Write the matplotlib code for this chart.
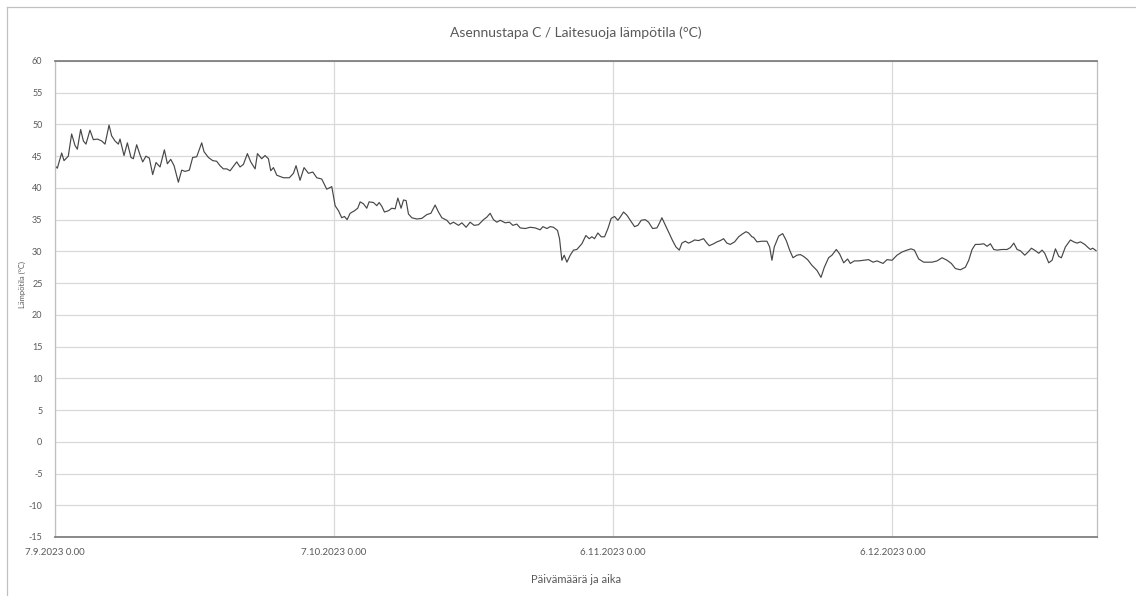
import matplotlib
matplotlib.use('Agg')
import matplotlib.pyplot as plt
import pandas as pd
from matplotlib.lines import Line2D

plt.rcParams['font.family'] = ['Liberation Sans Narrow', 'Lato', 'DejaVu Sans']
plt.rcParams['axes.unicode_minus'] = False

start = pd.Timestamp('2023-09-07 00:00')

# days since 7.9.2023 0.00
days = [0.00, 0.25, 0.72, 0.97, 1.43, 1.79, 2.15, 2.40, 2.76, 3.05, 3.33, 3.76, 4.12, 4.55, 5.02, 5.38,
        5.81, 6.09, 6.45, 6.81, 6.99, 7.42, 7.78, 8.17, 8.42, 8.78, 9.14, 9.43, 9.78, 10.14, 10.50, 10.86,
        11.29, 11.76, 12.08, 12.44, 12.80, 13.26, 13.62, 13.98, 14.44, 14.80, 15.23, 15.77, 16.02, 16.49,
        16.95, 17.38, 17.74, 18.10, 18.46, 18.82, 19.53, 19.89, 20.25, 20.68, 21.04, 21.51, 21.76, 22.22,
        22.58, 22.94, 23.19, 23.48, 23.84, 24.55, 25.19, 25.63, 25.91, 26.34, 26.77, 27.24, 27.71, 28.14,
        28.67, 29.21, 29.75, 30.11, 30.47, 30.82, 31.11, 31.40, 31.72, 32.19, 32.54, 32.80, 33.15, 33.51,
        33.76, 34.23, 34.59, 34.84, 35.13, 35.41, 35.84, 36.20, 36.56, 36.85, 37.20, 37.46, 37.74, 37.99,
        38.35, 38.89, 39.43, 39.97, 40.40, 40.86, 41.22, 41.58, 42.12, 42.47, 42.83, 43.37, 43.73, 44.19,
        44.62, 45.05, 45.52, 46.06, 46.42, 46.77, 47.13, 47.49, 47.85, 48.39, 48.85, 49.21, 49.64, 50.00,
        50.54, 51.08, 51.61, 52.15, 52.44, 52.87, 53.23, 53.58, 54.01, 54.23, 54.48, 54.73, 55.02, 55.38,
        55.73, 56.09, 56.63, 57.06, 57.42, 57.71, 57.99, 58.35, 58.71, 59.07, 59.43, 59.78, 60.14, 60.50,
        60.75, 61.11, 61.47, 61.83, 62.29, 62.65, 63.01, 63.44, 63.80, 64.23, 64.70, 64.95, 65.23, 65.52,
        65.95, 66.38, 66.74, 67.10, 67.38, 67.74, 68.10, 68.39, 68.75, 69.17, 69.71, 70.07, 70.32, 70.79,
        71.15, 71.51, 71.86, 72.22, 72.58, 73.05, 73.48, 73.84, 74.27, 74.55, 74.91, 75.09, 75.45, 75.99,
        76.52, 76.81, 77.06, 77.31, 77.78, 78.21, 78.60, 78.96, 79.32, 79.75, 80.11, 80.47, 80.89, 81.36,
        81.90, 82.33, 82.69, 83.15, 83.51, 83.98, 84.33, 84.77, 85.19, 85.48, 85.91, 86.38, 86.92, 87.45,
        87.92, 88.35, 89.00, 89.43, 89.97, 90.50, 91.04, 91.58, 92.01, 92.37, 92.83, 93.37, 94.27, 94.81,
        95.34, 95.88, 96.34, 96.77, 97.31, 97.85, 98.21, 98.57, 98.92, 99.35, 99.82, 100.18, 100.54, 100.90,
        101.26, 101.79, 102.33, 102.69, 103.05, 103.41, 103.76, 104.23, 104.59, 104.95, 105.38, 105.74,
        106.09, 106.38, 106.81, 107.17, 107.53, 107.89, 108.17, 108.60, 109.14, 109.50, 109.86, 110.22,
        110.68, 111.04, 111.29, 111.54, 111.90]

temps = [43.5, 43.1, 45.5, 44.3, 45.0, 48.5, 46.7, 46.1, 49.2, 47.4, 46.9, 49.1, 47.6, 47.7, 47.4, 46.9,
         49.9, 48.2, 47.4, 46.9, 47.7, 45.1, 47.1, 44.8, 44.6, 46.8, 45.2, 44.1, 45.0, 44.7, 42.1, 44.0,
         43.3, 46.0, 43.8, 44.5, 43.5, 40.9, 42.8, 42.6, 42.8, 44.8, 44.9, 47.1, 45.7, 44.8,
         44.3, 44.2, 43.5, 43.0, 43.0, 42.7, 44.1, 43.3, 43.7, 45.4, 44.1, 43.0, 45.4, 44.6,
         45.1, 44.6, 42.7, 43.2, 42.0, 41.6, 41.6, 42.3, 43.5, 41.2, 43.2, 42.3, 42.5, 41.6,
         41.4, 39.8, 40.2, 37.2, 36.4, 35.3, 35.5, 35.0, 36.0, 36.4, 36.8, 37.8, 37.5, 36.8,
         37.8, 37.7, 37.2, 37.7, 37.1, 36.2, 36.4, 36.8, 36.7, 38.4, 36.8, 38.1, 38.0, 35.9,
         35.3, 35.1, 35.2, 35.8, 36.0, 37.3, 36.2, 35.3, 34.9, 34.3, 34.6, 34.1, 34.5, 33.8,
         34.6, 34.1, 34.2, 35.0, 35.4, 36.0, 35.0, 34.6, 34.9, 34.5, 34.6, 34.1, 34.3, 33.7,
         33.6, 33.8, 33.7, 33.4, 33.9, 33.6, 33.9, 33.8, 33.3, 32.0, 28.6, 29.4, 28.3, 29.4,
         30.2, 30.3, 31.2, 32.5, 32.0, 32.3, 32.0, 32.9, 32.3, 32.3, 33.6, 35.2, 35.5, 34.9,
         35.4, 36.2, 35.7, 34.9, 33.9, 34.1, 34.9, 35.0, 34.6, 33.6, 33.7, 34.4, 35.3, 34.4,
         33.1, 31.7, 30.7, 30.2, 31.3, 31.6, 31.3, 31.5, 31.8, 31.7, 32.0, 31.3, 30.9, 31.2,
         31.5, 31.7, 32.0, 31.3, 31.1, 31.5, 32.3, 32.7, 33.1, 32.9, 32.3, 32.2, 31.5, 31.6,
         31.6, 30.7, 28.6, 30.7, 32.4, 32.8, 31.7, 30.2, 29.0, 29.4, 29.5, 29.2, 28.7, 27.8,
         27.0, 25.9, 27.5, 29.0, 29.4, 30.3, 29.6, 28.2, 28.8, 28.1, 28.5, 28.5, 28.6, 28.7,
         28.3, 28.5, 28.1, 28.7, 28.6, 29.4, 29.9, 30.2, 30.4, 30.2, 28.8, 28.3, 28.3, 28.5,
         29.0, 28.6, 28.1, 27.3, 27.1, 27.5, 28.6, 30.3, 31.1, 31.1, 31.2, 30.8, 31.2, 30.3,
         30.2, 30.3, 30.3, 30.6, 31.3, 30.3, 30.1, 29.4, 29.9, 30.5, 30.1, 29.7,
         30.2, 29.7, 28.2, 28.6, 30.4, 29.2, 29.0, 30.7, 31.8, 31.5, 31.3, 31.5,
         31.1, 30.6, 30.3, 30.5, 30.1]

tick_dates = ['2023-09-07', '2023-10-07', '2023-11-06', '2023-12-06']
tick_labels = ['7.9.2023 0.00', '7.10.2023 0.00', '6.11.2023 0.00', '6.12.2023 0.00']

x = start + pd.to_timedelta(days, unit='D')

fig = plt.figure(figsize=(11.36, 5.96), dpi=100)
ax = fig.add_axes([0.0484, 0.099, 0.9173, 0.7987])

ax.plot(x, temps, color='#474747', lw=0.85)

ax.set_ylim(-15, 60)
ax.set_yticks(range(-15, 61, 5))
ax.set_xlim(start, start + pd.Timedelta(days=112))
ax.set_xticks(pd.to_datetime(tick_dates))
ax.set_xticklabels(tick_labels)

ax.grid(True, color='#d9d9d9', lw=0.9)
ax.set_axisbelow(True)
ax.tick_params(length=0, labelsize=6.5, colors='#595959', pad=8)
ax.tick_params(axis='x', labelsize=7)
ax.tick_params(axis='y', pad=9)

for s in ['left', 'right']:
    ax.spines[s].set_color('#bfbfbf')
    ax.spines[s].set_linewidth(0.9)
for s in ['top', 'bottom']:
    ax.spines[s].set_color('#808080')
    ax.spines[s].set_linewidth(1.3)

ax.set_title('Asennustapa C / Laitesuoja lämpötila (°C)', fontsize=10, color='#595959', pad=17)
ax.set_xlabel('Päivämäärä ja aika', fontsize=8, color='#595959', labelpad=12)
ax.set_ylabel('Lämpötila (°C)', fontsize=5.5, color='#595959')
ax.yaxis.set_label_coords(-0.028, 0.53)

# chart area border
fig.add_artist(Line2D([7/1136, 7/1136], [0, 1 - 7/596], transform=fig.transFigure, color='#c0c0c0', lw=0.9))
fig.add_artist(Line2D([7/1136, 1], [1 - 7/596, 1 - 7/596], transform=fig.transFigure, color='#c0c0c0', lw=0.9))

fig.savefig('out.png', dpi=100)
